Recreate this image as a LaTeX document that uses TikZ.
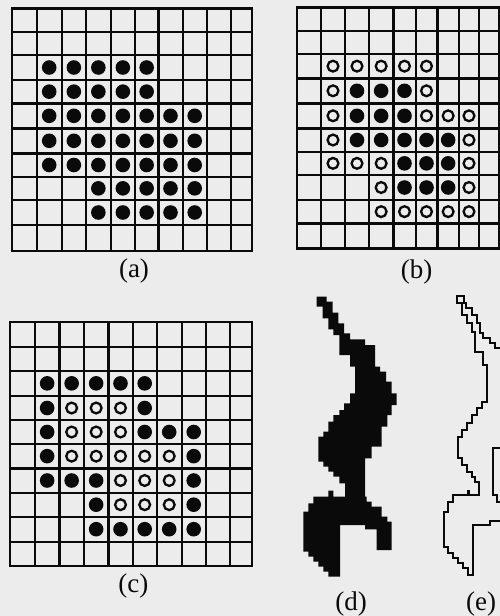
\documentclass[tikz,border=0pt]{standalone}
\usepackage{fontspec}
\setmainfont{Liberation Serif}
\definecolor{paper}{RGB}{236,236,236}
\definecolor{ink}{RGB}{10,10,10}
\tikzset{
  gridline/.style={draw=ink, line width=2.4pt, line cap=rect},
  fulldot/.style={fill=ink},
  opendot/.style={draw=ink, line width=2.3pt},
  panellabel/.style={font=\fontsize{27}{30}\selectfont, text=ink, inner sep=0pt},
  outline/.style={draw=ink, line width=2pt, line join=miter}
}
% b-pattern: 1 = inner (filled in b), 2 = boundary (open in b)
\def\cellrows{2/{0,2,2,2,2,2,0,0,0,0},3/{0,2,1,1,1,2,0,0,0,0},4/{0,2,1,1,1,2,2,2,0,0},5/{0,2,1,1,1,1,1,2,0,0},6/{0,2,2,2,1,1,1,2,0,0},7/{0,0,0,2,1,1,1,2,0,0},8/{0,0,0,2,2,2,2,2,0,0}}
\newcommand\gridpanel[3]{%
  \foreach \k in {0,...,10}{
    \pgfmathsetmacro\xx{#1[\k]}\pgfmathsetmacro\ya{#2[0]}\pgfmathsetmacro\yb{#2[10]}
    \draw[gridline] (\xx,\ya) -- (\xx,\yb);
    \pgfmathsetmacro\yy{#2[\k]}\pgfmathsetmacro\xa{#1[0]}\pgfmathsetmacro\xb{#1[10]}
    \draw[gridline] (\xa,\yy) -- (\xb,\yy);
  }
  \foreach \r/\spec in \cellrows {
    \foreach \v [count=\c from 0] in \spec {
      \ifnum\v>0
        \pgfmathtruncatemacro\t{#3==0 ? 1 : (#3==1 ? \v : 3-\v)}
        \pgfmathtruncatemacro\cn{\c+1}
        \pgfmathtruncatemacro\rn{\r+1}
        \pgfmathsetmacro\xl{#1[\c]}\pgfmathsetmacro\xr{#1[\cn]}
        \pgfmathsetmacro\yt{#2[\r]}\pgfmathsetmacro\ybt{#2[\rn]}
        \pgfmathsetmacro\cx{(\xl+\xr)/2}
        \pgfmathsetmacro\cy{(\yt+\ybt)/2}
        \ifnum\t=1
          \fill[fulldot] (\cx,\cy) circle[radius=7.3pt];
        \else
          \draw[opendot] (\cx,\cy) circle[radius=5.4pt];
        \fi
      \fi
    }
  }
}
\def\axs{{11.7,36.7,61.7,86,110.7,135,158.3,182.7,206.7,230.7,251.7}}
\def\ays{{8.3,31.7,55,80,103.3,128.3,153.3,176.7,200,225,250.7}}
\def\bxs{{296.7,321,345,369,393.3,415.7,437.3,459,479,499,519}}
\def\bys{{7.3,30.7,54,78.3,103.3,128.3,151.7,175,200,223.3,248.3}}
\def\cxs{{10,35,59.3,84,108.3,132.7,156.7,181.7,205.7,230,251.7}}
\def\cys{{321.7,346.7,370.7,396,420,444,468.3,492.7,516.7,541.7,566}}
\begin{document}
\begin{tikzpicture}[x=1pt,y=-1pt]
  \useasboundingbox (0,0) rectangle (500,616);
  \fill[paper] (0,0) rectangle (500,616);
  \clip (0,0) rectangle (500,616);
  % panels (a), (b), (c)
  \gridpanel{\axs}{\ays}{0}
  \gridpanel{\bxs}{\bys}{1}
  \gridpanel{\cxs}{\cys}{2}
  % shape (d)
  \fill[ink] (316.7,296.7) -- (326.7,296.7) -- (326.7,301.7) -- (332.7,301.7) -- (332.7,312.7) -- (338.3,312.7) -- (338.3,323.3) -- (344,323.3) -- (344,333.3) -- (350,333.3) -- (350,339.3) -- (365,339.3) -- (365,345) -- (375,345) -- (375,366.7) -- (380,366.7) -- (380,371.7) -- (386,371.7) -- (386,381.7) -- (391.7,381.7) -- (391.7,393.3) -- (396.7,393.3) -- (396.7,405) -- (391.7,405) -- (391.7,415) -- (387.3,415) -- (387.3,426.7) -- (381.7,426.7) -- (381.7,446.7) -- (371.7,446.7) -- (371.7,458.3) -- (365,458.3) -- (365,496.7) -- (366.7,496.7) -- (366.7,501.7) -- (371.7,501.7) -- (371.7,506.7) -- (381.7,506.7) -- (381.7,516.7) -- (387.3,516.7) -- (387.3,521.7) -- (391.7,521.7) -- (391.7,550) -- (376.7,550) -- (376.7,529.3) -- (365,529.3) -- (365,525) -- (340,525) -- (340,576.7) -- (328.3,576.7) -- (328.3,571.7) -- (323.3,571.7) -- (323.3,566.7) -- (318.3,566.7) -- (318.3,561.7) -- (313.3,561.7) -- (313.3,556.7) -- (308.3,556.7) -- (308.3,551.7) -- (303.3,551.7) -- (303.3,511.7) -- (308.3,511.7) -- (308.3,503.3) -- (313.3,503.3) -- (313.3,496.7) -- (328.3,496.7) -- (328.3,490.7) -- (333.3,490.7) -- (333.3,496.7) -- (345,496.7) -- (345,483.3) -- (339.3,483.3) -- (339.3,476.7) -- (333.3,476.7) -- (333.3,471.7) -- (328.3,471.7) -- (328.3,466.7) -- (323.3,466.7) -- (323.3,461.7) -- (318.3,461.7) -- (318.3,436.7) -- (323.3,436.7) -- (323.3,431.7) -- (328.3,431.7) -- (328.3,421.7) -- (333.3,421.7) -- (333.3,415) -- (339.3,415) -- (339.3,410) -- (344,410) -- (344,403.3) -- (350,403.3) -- (350,393.3) -- (355,393.3) -- (355,366.7) -- (350,366.7) -- (350,355) -- (339.3,355) -- (339.3,335) -- (333.3,335) -- (333.3,329.3) -- (328.3,329.3) -- (328.3,318.3) -- (322.7,318.3) -- (322.7,306.7) -- (316.7,306.7) -- cycle;
  % shape (e): contour
  \draw[outline] (502,348.3) -- (495,348.3) -- (495,343.3) -- (490,343.3) -- (490,338.3) -- (483.3,338.3) -- (483.3,333.3) -- (480,333.3) -- (480,323.3) -- (476.7,323.3) -- (476.7,315) -- (471.7,315) -- (471.7,308.3) -- (466,308.3) -- (466,303.3) -- (464,303.3) -- (464,296) -- (456.7,296) -- (456.7,303.3) -- (461.7,303.3) -- (461.7,315) -- (466.7,315) -- (466.7,323.3) -- (471.7,323.3) -- (471.7,331.7) -- (475,331.7) -- (475,351.7) -- (483.3,351.7) -- (483.3,365) -- (486.7,365) -- (486.7,401.7) -- (481.7,401.7) -- (481.7,408.3) -- (476.7,408.3) -- (476.7,415) -- (471.7,415) -- (471.7,423.3) -- (466.7,423.3) -- (466.7,430) -- (461.7,430) -- (461.7,436.7) -- (458.3,436.7) -- (458.3,458.3) -- (461.7,458.3) -- (461.7,465) -- (466.7,465) -- (466.7,471.7) -- (471.7,471.7) -- (471.7,476.7) -- (475,476.7) -- (475,481.7) -- (479.3,481.7) -- (479.3,495) -- (453.3,495) -- (453.3,501.7) -- (448.3,501.7) -- (448.3,511.7) -- (444,511.7) -- (444,546.7) -- (448.3,546.7) -- (448.3,553.3) -- (453.3,553.3) -- (453.3,558.3) -- (458.3,558.3) -- (458.3,563.3) -- (463.3,563.3) -- (463.3,568.3) -- (468.3,568.3) -- (468.3,575) -- (473.3,575) -- (473.3,525) -- (490,525) -- (490,521) -- (502,521);
  \fill[ink] (466.7,490) rectangle (470,495);
  \draw[outline] (502,448) -- (493.3,448) -- (493.3,495) -- (496.7,495) -- (496.7,501.7) -- (502,501.7);
  % labels
  \node[panellabel] (la) at (134,271.5) {(a)};
  \node[panellabel] (lb) at (416.7,272) {(b)};
  \node[panellabel] (lc) at (133.3,586) {(c)};
  \node[panellabel] (ld) at (351,604) {(d)};
  \node[panellabel] (le) at (481,604) {(e)};
\end{tikzpicture}
\end{document}
